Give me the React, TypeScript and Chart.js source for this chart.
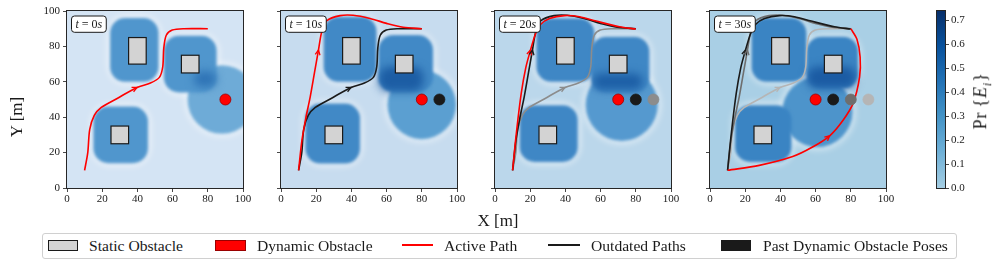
import React, { useEffect, useRef } from 'react';
import { Chart, registerables } from 'chart.js';

Chart.register(...registerables);

const SERIF = '"Liberation Serif", "Times New Roman", serif';
Chart.defaults.font.family = SERIF;

// ---------------- data ----------------
const AXIS_TICKS = [0, 20, 40, 60, 80, 100];
const COLORBAR_TICKS = [0, 0.1, 0.2, 0.3, 0.4, 0.5, 0.6, 0.7];
const COLORBAR_MAX = 0.74;
const TIME_STAMPS = [0, 10, 20, 30];

// static obstacles [x0, y0, x1, y1]
const STATIC_OBSTACLES = [
  [35, 70, 45, 85],
  [65, 65, 75, 75],
  [25, 25, 35, 35],
];
// dynamic obstacle x position at each time step
const DYNAMIC_OBSTACLE_X = [90, 80, 70, 60];
const DYNAMIC_OBSTACLE_Y = 50;

// planned paths at each time step
const PATH_T0 = [[10, 10], [11.8, 20], [12.9, 33], [15.5, 41], [19.5, 45.5], [28.5, 50.6], [39.8, 56.8], [47.4, 59.3], [52.5, 62.5], [54.4, 68.5], [55, 79], [56.4, 86.3], [59.8, 89.2], [66.4, 90], [80, 90]];
const PATH_T10 = [[10, 10], [11.9, 27], [14.2, 40], [16.6, 51.5], [19, 65], [21.3, 78], [23.2, 88.5], [26, 94.5], [33.6, 97.4], [41, 97.6], [50.6, 95.8], [60, 93], [69.4, 90.8], [80, 90]];
const PATH_T20 = [[10, 10], [12.1, 30.8], [14.9, 53.4], [17.5, 68], [20.2, 78], [23, 87], [26, 92.5], [31, 95.8], [39.5, 97.4], [48, 96.8], [57.5, 94.3], [70.7, 91.1], [80, 89.8]];
const PATH_T30 = [[10, 10], [28, 12.8], [47, 17.8], [58, 23], [68, 29.5], [75.6, 38.3], [81.3, 47.8], [85, 62.8], [85.3, 74], [83.5, 84], [80, 90]];
const PATHS = [PATH_T0, PATH_T10, PATH_T20, PATH_T30];
const ARROW_INDEX = [6, 5, 4, 4];

// colours of outdated items by age (1, 2, 3 steps old) for each panel
const AGE_COLORS = [[], ['#1a1a1a'], ['#1a1a1a', '#8c8c8c'], ['#1a1a1a', '#6e6e6e', '#b5b5b5']];

// heat map (Pr{E_i}) appearance per panel
const BG_COLORS = ['#d4e4f4', '#c7dcef', '#bbd7eb', '#a9cfe5'];
const STATIC_BLOB_COLORS = ['#5096cd', '#4189c6', '#3f87c5', '#3a84c3'];
const DYN_BLOB_COLORS = ['#6eabd7', '#5b9fd1', '#5599cf', '#4d94cb'];
const DARK_PATCH_COLORS = ['#2f74b6', '#1c5da4', '#1d5fa6', '#1b5ba3'];
// blob extents [x0, y0, x1, y1] around each static obstacle
const STATIC_BLOBS = [
  [[24.5, 60, 52, 96], [55, 54, 85, 86], [15, 14, 46, 46]],
  [[24.2, 60, 54.3, 96.8], [55.3, 54.3, 86.4, 86.4], [13.8, 13.8, 44.9, 47.7]],
  [[23.5, 60, 56.5, 95.9], [54.6, 54, 87.7, 85.5], [14, 14.7, 47, 46.8]],
  [[23.6, 60, 54.8, 96], [54.8, 56.3, 84.2, 85.5], [14.2, 14.7, 46.3, 46.8]],
];
// dynamic obstacle blob [cx, cy, r]
const DYN_BLOBS = [[88, 50, 19.5], [80, 47, 19.5], [72, 47, 20.5], [61, 43, 20]];
// overlap (dark) region [x0, y0, x1, y1]
const DARK_PATCHES = [[72, 57, 85, 66], [55.5, 54.5, 81, 68.5], [55.6, 55.5, 84, 64.7], [55, 56.3, 83, 68.5]];

const COLORBAR_STOPS: [number, string][] = [
  [0, '#a6cee4'], [0.017, '#9ecae1'], [0.162, '#6baed6'], [0.306, '#4292c6'],
  [0.451, '#2171b5'], [0.595, '#08519c'], [0.74, '#08306b'],
];

// ---------------- layout ----------------
const PLOT_LEFTS = [67, 281, 495, 710];
const YW = 50;
const CW = 240;
const CH = 215;
const PLOT_TOP = 11;
const PLOT_BOTTOM = 188;

function roundRectPath(ctx: CanvasRenderingContext2D, l: number, t: number, r: number, b: number, rad: number) {
  const rr = Math.min(rad, (r - l) / 2, (b - t) / 2);
  ctx.beginPath();
  ctx.moveTo(l + rr, t);
  ctx.arcTo(r, t, r, b, rr);
  ctx.arcTo(r, b, l, b, rr);
  ctx.arcTo(l, b, l, t, rr);
  ctx.arcTo(l, t, r, t, rr);
  ctx.closePath();
}

const heatmapPlugin = {
  id: 'heatmap',
  beforeDatasetsDraw(chart: any, _a: any, opts: any) {
    const k = opts.panel;
    if (k === undefined || k < 0) return;
    const { ctx, chartArea: a, scales } = chart;
    const px = (v: number) => scales.x.getPixelForValue(v);
    const py = (v: number) => scales.y.getPixelForValue(v);
    const rect = (b: number[], pad: number, rad: number) =>
      roundRectPath(ctx, px(b[0] - pad), py(b[3] + pad), px(b[2] + pad), py(b[1] - pad), rad);
    const circ = (c: number[], pad: number) => {
      ctx.beginPath();
      ctx.arc(px(c[0]), py(c[1]), (px(c[2] + pad) - px(0)), 0, Math.PI * 2);
    };
    ctx.save();
    ctx.beginPath();
    ctx.rect(a.left, a.top, a.right - a.left, a.bottom - a.top);
    ctx.clip();
    ctx.fillStyle = BG_COLORS[k];
    ctx.fillRect(a.left, a.top, a.right - a.left, a.bottom - a.top);
    // light halo
    ctx.filter = 'blur(3px)';
    ctx.fillStyle = 'rgba(255,255,255,0.45)';
    STATIC_BLOBS[k].forEach((b) => { rect(b, 2, 20); ctx.fill(); });
    circ(DYN_BLOBS[k], 2); ctx.fill();
    ctx.filter = 'blur(1.5px)';
    ctx.fillStyle = DYN_BLOB_COLORS[k];
    circ(DYN_BLOBS[k], 0); ctx.fill();
    ctx.fillStyle = STATIC_BLOB_COLORS[k];
    STATIC_BLOBS[k].forEach((b) => { rect(b, 0, 15); ctx.fill(); });
    ctx.filter = 'blur(4px)';
    ctx.fillStyle = DARK_PATCH_COLORS[k];
    rect(DARK_PATCHES[k], 0, 10); ctx.fill();
    ctx.filter = 'none';
    // static obstacles
    ctx.fillStyle = '#d3d3d3';
    ctx.strokeStyle = '#1a1a1a';
    ctx.lineWidth = 1.2;
    STATIC_OBSTACLES.forEach((o) => {
      const l = px(o[0]), r = px(o[2]), t = py(o[3]), b = py(o[1]);
      ctx.fillRect(l, t, r - l, b - t);
      ctx.strokeRect(l, t, r - l, b - t);
    });
    ctx.restore();
  },
  afterDatasetsDraw(chart: any, _a: any, opts: any) {
    const k = opts.panel;
    if (k === undefined || k < 0) return;
    const { ctx, chartArea: a, scales } = chart;
    const px = (v: number) => scales.x.getPixelForValue(v);
    const py = (v: number) => scales.y.getPixelForValue(v);
    ctx.save();
    // arrows on paths
    chart.data.datasets.forEach((ds: any) => {
      if (ds.arrowAt === undefined) return;
      const d = ds.data;
      const i = ds.arrowAt;
      const x = px(d[i].x), y = py(d[i].y);
      const dx = px(d[i + 1].x) - px(d[i - 1].x);
      const dy = py(d[i + 1].y) - py(d[i - 1].y);
      const ang = Math.atan2(dy, dx);
      const L = 5.5, W = 0.45;
      ctx.strokeStyle = ds.borderColor;
      ctx.lineWidth = 1.3;
      ctx.beginPath();
      ctx.moveTo(x - L * Math.cos(ang - W), y - L * Math.sin(ang - W));
      ctx.lineTo(x, y);
      ctx.lineTo(x - L * Math.cos(ang + W), y - L * Math.sin(ang + W));
      ctx.stroke();
    });
    // time label box
    const T = TIME_STAMPS[k];
    const pieces: [string, boolean][] = [['t', true], [' = ' + T, false], ['s', true]];
    const fs = 12;
    let w = 0;
    pieces.forEach(([s, it]) => { ctx.font = `${it ? 'italic ' : ''}${fs}px ${SERIF}`; w += ctx.measureText(s).width; });
    const bx = a.left + 4.5, by = a.top + 5, bw = w + 8, bh = 16.3;
    roundRectPath(ctx, bx, by, bx + bw, by + bh, 3);
    ctx.fillStyle = '#ffffff';
    ctx.fill();
    ctx.strokeStyle = '#1a1a1a';
    ctx.lineWidth = 1;
    ctx.stroke();
    ctx.fillStyle = '#1a1a1a';
    ctx.textBaseline = 'middle';
    let cx = bx + 4;
    pieces.forEach(([s, it]) => {
      ctx.font = `${it ? 'italic ' : ''}${fs}px ${SERIF}`;
      ctx.fillText(s, cx, by + bh / 2 + 0.5);
      cx += ctx.measureText(s).width;
    });
    ctx.restore();
  },
};

const framePlugin = {
  id: 'frame',
  afterDraw(chart: any) {
    const { ctx, chartArea: a } = chart;
    ctx.save();
    ctx.strokeStyle = '#262626';
    ctx.lineWidth = 1;
    ctx.strokeRect(Math.round(a.left) - 0.5, Math.round(a.top) - 0.5, Math.round(a.right - a.left) + 1, Math.round(a.bottom - a.top) + 1);
    ctx.restore();
  },
};

const colorbarPlugin = {
  id: 'colorbar',
  beforeDatasetsDraw(chart: any, _a: any, opts: any) {
    if (!opts.enabled) return;
    const { ctx, chartArea: a } = chart;
    const g = ctx.createLinearGradient(0, a.bottom, 0, a.top);
    COLORBAR_STOPS.forEach(([v, c]) => g.addColorStop(v / COLORBAR_MAX, c));
    ctx.save();
    ctx.fillStyle = g;
    ctx.fillRect(a.left, a.top, a.right - a.left, a.bottom - a.top);
    ctx.restore();
  },
};

const tickFont = { family: SERIF, size: 11 };
const TICK_COLOR = '#1a1a1a';

function panelConfig(k: number): any {
  const datasets: any[] = [];
  datasets.push({
    data: [{ x: DYNAMIC_OBSTACLE_X[k], y: DYNAMIC_OBSTACLE_Y }],
    pointRadius: 5.5, pointBackgroundColor: '#ff0000', pointBorderColor: '#9a0000', pointBorderWidth: 0.8,
    order: 0,
  });
  const ages = AGE_COLORS[k];
  ages.forEach((c, i) => {
    datasets.push({
      data: [{ x: DYNAMIC_OBSTACLE_X[k - i - 1], y: DYNAMIC_OBSTACLE_Y }],
      pointRadius: 5.5, pointBackgroundColor: c, pointBorderColor: c, pointBorderWidth: 0.8,
      order: 1,
    });
  });
  datasets.push({
    data: PATHS[k].map(([x, y]) => ({ x, y })),
    showLine: true, borderColor: '#ff0000', borderWidth: 1.6, pointRadius: 0, tension: 0.3,
    arrowAt: ARROW_INDEX[k], order: 2,
  });
  ages.forEach((c, i) => {
    const j = k - i - 1;
    datasets.push({
      data: PATHS[j].map(([x, y]) => ({ x, y })),
      showLine: true, borderColor: c, borderWidth: 1.6, pointRadius: 0, tension: 0.3,
      arrowAt: ARROW_INDEX[j], order: 3 + i,
    });
  });
  const grid = { display: true, drawOnChartArea: false, drawTicks: true, tickLength: 4, color: TICK_COLOR, lineWidth: 0.8 };
  return {
    type: 'scatter',
    data: { datasets },
    options: {
      animation: false,
      responsive: false,
      devicePixelRatio: 1,
      events: [],
      layout: { padding: { left: 0, top: PLOT_TOP, right: CW - YW - 176, bottom: 0 } },
      plugins: { legend: { display: false }, tooltip: { enabled: false }, heatmap: { panel: k }, colorbar: { enabled: false } },
      scales: {
        x: {
          type: 'linear', min: 0, max: 100,
          afterBuildTicks: (s: any) => { s.ticks = AXIS_TICKS.map((v) => ({ value: v })); },
          ticks: { font: tickFont, color: TICK_COLOR, padding: 1, maxRotation: 0, autoSkip: false, callback: (v: any) => String(v) },
          grid, border: { display: false },
          afterFit: (s: any) => { s.height = CH - PLOT_BOTTOM; },
        },
        y: {
          type: 'linear', min: 0, max: 100,
          afterBuildTicks: (s: any) => { s.ticks = AXIS_TICKS.map((v) => ({ value: v })); },
          ticks: { display: k === 0, font: tickFont, color: TICK_COLOR, padding: 3, autoSkip: false, callback: (v: any) => String(v) },
          grid, border: { display: false },
          afterFit: (s: any) => { s.width = YW; },
        },
      },
    },
    plugins: [heatmapPlugin, framePlugin, colorbarPlugin],
  };
}

function colorbarConfig(): any {
  return {
    type: 'scatter',
    data: { datasets: [] },
    options: {
      animation: false,
      responsive: false,
      devicePixelRatio: 1,
      events: [],
      layout: { padding: { left: 7, top: PLOT_TOP, right: 0, bottom: CH - PLOT_BOTTOM } },
      plugins: { legend: { display: false }, tooltip: { enabled: false }, heatmap: { panel: -1 }, colorbar: { enabled: true } },
      scales: {
        x: { display: false, min: 0, max: 1 },
        y: {
          type: 'linear', position: 'right', min: 0, max: COLORBAR_MAX,
          afterBuildTicks: (s: any) => { s.ticks = COLORBAR_TICKS.map((v) => ({ value: v })); },
          ticks: { font: tickFont, color: TICK_COLOR, padding: 2, autoSkip: false, callback: (v: any) => Number(v).toFixed(1) },
          grid: { display: true, drawOnChartArea: false, drawTicks: true, tickLength: 4, color: TICK_COLOR, lineWidth: 0.8 },
          border: { display: false },
          afterFit: (s: any) => { s.width = 52; },
        },
      },
    },
    plugins: [heatmapPlugin, framePlugin, colorbarPlugin],
  };
}

function ChartCanvas({ left, width, config }: { left: number; width: number; config: () => any }) {
  const ref = useRef<HTMLCanvasElement>(null);
  useEffect(() => {
    if (!ref.current) return;
    const chart = new Chart(ref.current, config());
    return () => chart.destroy();
  }, []);
  return (
    <canvas
      ref={ref}
      width={width}
      height={CH}
      style={{ position: 'absolute', left, top: 0, width, height: CH }}
    />
  );
}

const LEGEND_FONT = 15.6;

function LegendText({ left, children }: { left: number; children: any }) {
  return (
    <div style={{ position: 'absolute', left, top: 245.5, transform: 'translateY(-50%)', fontFamily: SERIF, fontSize: LEGEND_FONT, lineHeight: 1, color: '#1a1a1a', whiteSpace: 'nowrap' }}>
      {children}
    </div>
  );
}

export default function App() {
  return (
    <div style={{ position: 'fixed', left: 0, top: 0, width: 997, height: 267, background: '#ffffff', overflow: 'hidden' }}>
      {PLOT_LEFTS.map((l, k) => (
        <ChartCanvas key={k} left={l - YW} width={CW} config={() => panelConfig(k)} />
      ))}
      <ChartCanvas left={930} width={67} config={colorbarConfig} />

      <div style={{ position: 'absolute', left: 16, top: 117, transform: 'translate(-50%,-50%) rotate(-90deg)', fontFamily: SERIF, fontSize: 17, color: '#1a1a1a', whiteSpace: 'nowrap', lineHeight: 1 }}>
        Y [m]
      </div>
      <div style={{ position: 'absolute', left: 498, top: 220, transform: 'translate(-50%,-50%)', fontFamily: SERIF, fontSize: 17, color: '#1a1a1a', whiteSpace: 'nowrap', lineHeight: 1 }}>
        X [m]
      </div>
      <div style={{ position: 'absolute', left: 982, top: 101, transform: 'translate(-50%,-50%) rotate(-90deg)', fontFamily: SERIF, fontSize: 18, color: '#1a1a1a', whiteSpace: 'nowrap', lineHeight: 1, letterSpacing: 0.8 }}>
        Pr{'\u2009'}{'{'}<i>E<sub style={{ fontSize: 12 }}>i</sub></i>{'}'}
      </div>

      <div style={{ position: 'absolute', left: 42, top: 233, width: 915, height: 26, boxSizing: 'border-box', border: '1px solid #d0d0d0', borderRadius: 3, background: '#ffffff' }} />
      <div style={{ position: 'absolute', left: 48, top: 240, width: 30, height: 11, boxSizing: 'border-box', background: '#d3d3d3', border: '1px solid #1a1a1a' }} />
      <LegendText left={89}>Static Obstacle</LegendText>
      <div style={{ position: 'absolute', left: 215, top: 240, width: 31, height: 11, boxSizing: 'border-box', background: '#ff0000', border: '1px solid #9a0000' }} />
      <LegendText left={257}>Dynamic Obstacle</LegendText>
      <div style={{ position: 'absolute', left: 402, top: 244, width: 31, height: 2, background: '#ff0000' }} />
      <LegendText left={444}>Active Path</LegendText>
      <div style={{ position: 'absolute', left: 548, top: 244, width: 32, height: 2, background: '#1a1a1a' }} />
      <LegendText left={591}>Outdated Paths</LegendText>
      <div style={{ position: 'absolute', left: 721, top: 240, width: 30, height: 11, background: '#1a1a1a' }} />
      <LegendText left={763}>Past Dynamic Obstacle Poses</LegendText>
    </div>
  );
}
